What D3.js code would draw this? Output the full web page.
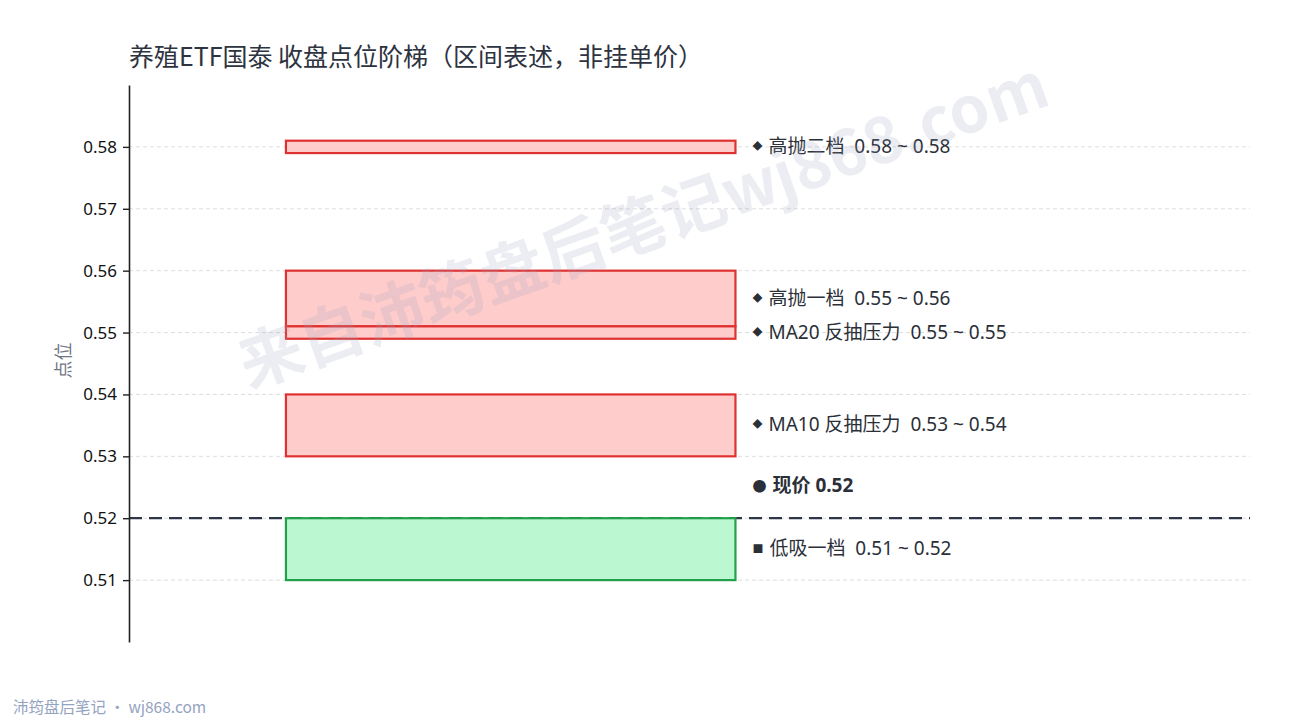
<!DOCTYPE html>
<html>
<head>
<meta charset="utf-8">
<script src="https://cdn.jsdelivr.net/npm/d3@7"></script>
<style>
  body { margin: 0; background: #fff; }
  svg { font-family: "Noto Sans CJK SC", "Noto Sans", sans-serif; }
  .labels text { white-space: pre; }
</style>
</head>
<body>
<svg></svg>
<script>
// levels, low/high of each band
var levelNames = ["高抛二档", "高抛一档", "MA20 反抽压力", "MA10 反抽压力", "低吸一档"];
var levelLow   = [0.579, 0.551, 0.549, 0.53, 0.51];
var levelHigh  = [0.581, 0.56, 0.551, 0.54, 0.52];
var levelKind  = ["resist", "resist", "resist", "resist", "support"];
var labelLow   = ["0.58", "0.55", "0.55", "0.53", "0.51"];
var labelHigh  = ["0.58", "0.56", "0.55", "0.54", "0.52"];
var currentPrice = 0.52;
var yTicks = [0.51, 0.52, 0.53, 0.54, 0.55, 0.56, 0.57, 0.58];

var width = 1290;
var height = 720;
var margin = {top: 85, right: 40, bottom: 78, left: 129};

var svg = d3.select("svg")
            .attr("width", width)
            .attr("height", height);

var y = d3.scaleLinear()
          .domain([0.50, 0.59])
          .range([height - margin.bottom, margin.top]);

var x = d3.scaleLinear()
          .domain([0, 1])
          .range([margin.left, width - margin.right]);

var levels = levelNames.map((n, i) => ({
  name: n, low: levelLow[i], high: levelHigh[i], kind: levelKind[i],
  text: n + "  " + labelLow[i] + " ~ " + labelHigh[i]
}));

// title
svg.append("text")
   .attr("x", margin.left)
   .attr("y", 66)
   .attr("font-size", 25)
   .attr("fill", "#2d3340")
   .text("养殖ETF国泰 收盘点位阶梯（区间表述，非挂单价）");

// grid
svg.append("g")
   .selectAll("line")
   .data(yTicks)
   .enter()
   .append("line")
     .attr("x1", x(0)).attr("x2", x(1))
     .attr("y1", d => y(d)).attr("y2", d => y(d))
     .attr("stroke", "#dedede")
     .attr("stroke-width", 1)
     .attr("stroke-dasharray", "4,3");

// current price line goes under the boxes
svg.append("line")
   .attr("x1", x(0)).attr("x2", x(1))
   .attr("y1", y(currentPrice)).attr("y2", y(currentPrice))
   .attr("stroke", "#2d3748")
   .attr("stroke-width", 2.2)
   .attr("stroke-dasharray", "13,7");

var boxGp = svg.append("g").classed("boxes", true);
boxGp.selectAll("rect")
  .data(levels)
  .enter()
  .append("rect")
    .attr("x", x(0.14))
    .attr("width", x(0.541) - x(0.14))
    .attr("y", d => y(d.high))
    .attr("height", d => y(d.low) - y(d.high))
    .attr("fill", d => d.kind === "support" ? "#bbf7d0" : "#ffcccc")
    .attr("stroke", d => d.kind === "support" ? "#22a04b" : "#e03131")
    .attr("stroke-width", 2.2);

// y axis
var yAxis = svg.append("g")
   .attr("transform", "translate(" + margin.left + ",0)")
   .call(d3.axisLeft(y).tickValues(yTicks).tickFormat(d3.format(".2f")).tickSize(6).tickSizeOuter(0));
yAxis.select(".domain").attr("stroke", "#222").attr("stroke-width", 1.6);
yAxis.selectAll(".tick line").attr("stroke", "#222").attr("stroke-width", 1.4);
yAxis.selectAll(".tick text")
     .attr("font-size", 17)
     .attr("fill", "#111")
     .attr("font-family", "'Noto Sans', sans-serif")
     .attr("x", -12);

svg.append("text")
   .attr("transform", "translate(70," + y(0.5455) + ") rotate(-90)")
   .attr("text-anchor", "middle")
   .attr("font-size", 18)
   .attr("fill", "#6f7686")
   .text("点位");

// labels beside boxes
var labelGp = svg.append("g").classed("labels", true);
var labelX = x(0.541) + 17;
levels.forEach(d => {
  var cy = (y(d.low) + y(d.high)) / 2 - 1;
  var t = labelGp.append("text")
     .attr("x", labelX)
     .attr("y", cy)
     .attr("dominant-baseline", "central")
     .attr("font-size", 19)
     .attr("font-family", "'Noto Sans', 'Noto Sans CJK SC', sans-serif")
     .attr("fill", "#2b2f38");
  t.append("tspan").attr("font-size", d.kind === "support" ? 11 : 10).text(d.kind === "support" ? "■" : "◆");
  t.append("tspan").attr("dx", 6).text(d.text);
});

var curY = y(currentPrice + 0.0053);
var cur = labelGp.append("text")
   .attr("x", labelX)
   .attr("y", curY)
   .attr("dominant-baseline", "central")
   .attr("font-size", 19)
   .attr("font-weight", "bold")
   .attr("font-family", "'Noto Sans', 'Noto Sans CJK SC', sans-serif")
   .attr("fill", "#2b2f38");
cur.append("tspan").attr("font-size", 14).text("●");
cur.append("tspan").attr("dx", 6).text("现价 " + d3.format(".2f")(currentPrice));

// watermark on top
svg.append("text")
   .attr("transform", "translate(645,230) rotate(-19.5)")
   .attr("text-anchor", "middle")
   .attr("dominant-baseline", "middle")
   .attr("font-size", 64)
   .attr("font-weight", "bold")
   .attr("fill", "#9aa3bd")
   .attr("fill-opacity", 0.2)
   .text("来自沛筠盘后笔记wj868.com");

// footer
svg.append("text")
   .attr("x", 13)
   .attr("y", 713)
   .attr("font-size", 15.5)
   .attr("fill", "#94a3bf")
   .text("沛筠盘后笔记 · wj868.com");
</script>
</body>
</html>
